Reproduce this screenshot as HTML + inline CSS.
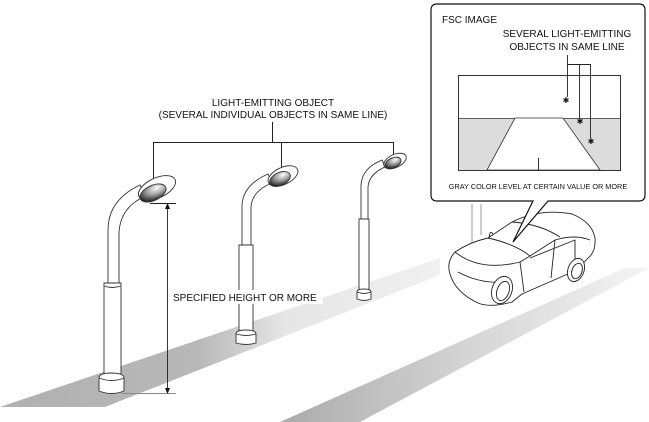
<!DOCTYPE html>
<html><head><meta charset="utf-8"><style>
html,body{margin:0;padding:0;background:#fff;}
svg{display:block;}
text{font-family:"Liberation Sans",sans-serif;fill:#111;}
</style></head><body>
<svg width="649" height="422" viewBox="0 0 649 422" xmlns="http://www.w3.org/2000/svg">
<defs>
<linearGradient id="b1" x1="0" y1="0" x2="1" y2="0">
<stop offset="0" stop-color="#b0b0b0"/><stop offset="0.45" stop-color="#b8b8b8"/><stop offset="0.65" stop-color="#e6e6e6"/><stop offset="1" stop-color="#f0f0f0"/></linearGradient>
<linearGradient id="b2" x1="0" y1="0" x2="1" y2="0">
<stop offset="0" stop-color="#aaaaaa"/><stop offset="0.5" stop-color="#d4d4d4"/><stop offset="1" stop-color="#f4f4f4"/></linearGradient>
<radialGradient id="lamp" cx="0.7" cy="0.3" r="0.8">
<stop offset="0" stop-color="#ffffff"/><stop offset="0.5" stop-color="#999"/><stop offset="1" stop-color="#111"/></radialGradient>
</defs>
<polygon points="0,407 440,258 440,275 105,407" fill="url(#b1)"/>
<polygon points="280,422 360,422 649,268 625,268" fill="url(#b2)"/>

<text x="273" y="106" font-size="10" text-anchor="middle">LIGHT-EMITTING OBJECT</text>
<text x="273" y="118" font-size="10" text-anchor="middle">(SEVERAL INDIVIDUAL OBJECTS IN SAME LINE)</text>
<g stroke="#222" stroke-width="1" fill="none">
<line x1="272.5" y1="122" x2="272.5" y2="142"/>
<line x1="153" y1="142.5" x2="394" y2="142.5"/>
<line x1="153.5" y1="142" x2="153.5" y2="186"/>
<line x1="281.5" y1="142" x2="281.5" y2="176"/>
<line x1="393.5" y1="142" x2="393.5" y2="160"/>
</g>

<g stroke="#333" stroke-width="0.9" fill="#fff">
<path d="M104,375 L104,283 L121,283 L121,375 Z"/>
<path d="M108,283 L108,230 Q108,200 140,185 L146,196 Q121,206 119,232 L119,283 Z"/>
<path d="M99,378 Q99,373 111,373 Q124,373 124,378 L124,391 Q112,396 99,391 Z"/>
<path d="M99,378 Q112,383 124,378" fill="none"/>
<path d="M104,286 Q112,289 121,286" fill="none"/>
<ellipse cx="157" cy="188" rx="20" ry="10" transform="rotate(-25 157 188)"/>
<ellipse cx="153" cy="193" rx="14" ry="7.5" transform="rotate(-25 153 193)" fill="url(#lamp)"/>
</g>
<g stroke="#333" stroke-width="0.9" fill="#fff">
<path d="M239,245 L253,245 L253,332 L239,332 Z"/>
<path d="M242,245 L242,205 Q243,185 268,174 L272,183 Q252,191 251,207 L251,245 Z"/>
<path d="M236,334 Q236,330 246,330 Q256,330 256,334 L256,343 Q246,346 236,343 Z"/>
<path d="M236,334 Q246,337 256,334" fill="none"/>
<ellipse cx="283" cy="176" rx="16" ry="8.5" transform="rotate(-25 283 176)"/>
<ellipse cx="280" cy="179" rx="11" ry="6.5" transform="rotate(-25 280 179)" fill="url(#lamp)"/>
</g>
<g stroke="#333" stroke-width="0.9" fill="#fff">
<path d="M359,219 L369,219 L369,290 L359,290 Z"/>
<path d="M361,219 L361,185 Q362,168 382,160 L385,167 Q369,174 368,187 L368,219 Z"/>
<path d="M357,292 Q357,289 364,289 Q371,289 371,292 L371,299 Q364,302 357,299 Z"/>
<path d="M357,292 Q364,295 371,292" fill="none"/>
<ellipse cx="395" cy="161" rx="12" ry="6.5" transform="rotate(-25 395 161)"/>
<ellipse cx="393" cy="163" rx="8.5" ry="5" transform="rotate(-25 393 163)" fill="url(#lamp)"/>
</g>

<g stroke="#222" stroke-width="0.9" fill="none">
<line x1="150" y1="203.5" x2="176" y2="203.5"/>
<line x1="122" y1="393.5" x2="176" y2="393.5" stroke="#888"/>
<line x1="167.5" y1="206" x2="167.5" y2="391"/>
</g>
<polygon points="167.5,203 165,209 170,209" fill="#111"/>
<polygon points="167.5,394 165,388 170,388" fill="#111"/>
<rect x="171" y="290" width="152" height="14" fill="#fff"/>
<text x="173" y="301" font-size="10">SPECIFIED HEIGHT OR MORE</text>

<g stroke="#999" stroke-width="1"><line x1="472" y1="204" x2="472" y2="243"/><line x1="481" y1="204" x2="481" y2="235"/></g>

<g stroke="#222" stroke-width="0.9" fill="#fff" stroke-linejoin="round">
<path d="M450,274 Q446,262 455,252 Q470,242 488,238 L512,222 Q540,208 572,214 Q592,222 595,238 Q596,252 588,258 L577,270 L522,294 L512,302 Q490,308 478,303 Q455,292 450,274 Z"/>
<path d="M488,238 Q515,244 530,256 L555,240 Q575,234 590,240" fill="none"/>
<path d="M512,222 Q540,224 560,237" fill="none"/>
<path d="M455,252 Q480,272 520,262 L530,256" fill="none"/>
<path d="M458,272 Q480,284 505,282" fill="none"/>
<path d="M520,262 L524,292" fill="none"/>
<path d="M555,240 L551,278" fill="none"/>
<path d="M530,258 L575,240 L575,268" fill="none"/>
<ellipse cx="502" cy="290" rx="10" ry="14" transform="rotate(20 502 290)"/>
<ellipse cx="503" cy="291" rx="6" ry="10" transform="rotate(20 503 291)"/>
<ellipse cx="576" cy="270" rx="8" ry="12" transform="rotate(20 576 270)"/>
<ellipse cx="577" cy="271" rx="5" ry="8" transform="rotate(20 577 271)"/>
<path d="M489,238 L490,233 Q492,231 493,235" fill="none"/>
</g>

<path d="M437,4 L639,4 Q645,4 645,10 L645,195 Q645,201 639,201 L548,201 L513,242 L533,201 L437,201 Q431,201 431,195 L431,10 Q431,4 437,4 Z" fill="#fff" stroke="#111" stroke-width="1.2"/>
<text x="442" y="23" font-size="10">FSC IMAGE</text>
<text x="567" y="37" font-size="10" text-anchor="middle">SEVERAL LIGHT-EMITTING</text>
<text x="567" y="50" font-size="10" text-anchor="middle">OBJECTS IN SAME LINE</text>
<rect x="458.5" y="75.5" width="162" height="95" fill="#fff" stroke="#333" stroke-width="1"/>
<rect x="459" y="118" width="161" height="52" fill="#dcdcdc"/>
<line x1="458" y1="118.5" x2="620" y2="118.5" stroke="#333" stroke-width="0.8"/>
<polygon points="515,118 563,118 600,170 487,170" fill="#fff" stroke="#333" stroke-width="0.8"/>
<line x1="478" y1="170.5" x2="612" y2="170.5" stroke="#333" stroke-width="1"/>
<line x1="538.5" y1="158" x2="538.5" y2="170" stroke="#333"/>
<g stroke="#222" stroke-width="0.9" fill="none">
<line x1="567.5" y1="55" x2="567.5" y2="97"/>
<line x1="567" y1="64.5" x2="590" y2="64.5"/>
<line x1="579.5" y1="64" x2="579.5" y2="118"/>
<line x1="590.5" y1="64" x2="590.5" y2="138"/>
</g>
<g font-size="8" text-anchor="middle"><text x="566" y="103">✱</text><text x="580" y="124">✱</text><text x="591" y="144">✱</text></g>
<text x="538" y="189" font-size="7.3" text-anchor="middle">GRAY COLOR LEVEL AT CERTAIN VALUE OR MORE</text>
</svg>
</body></html>
